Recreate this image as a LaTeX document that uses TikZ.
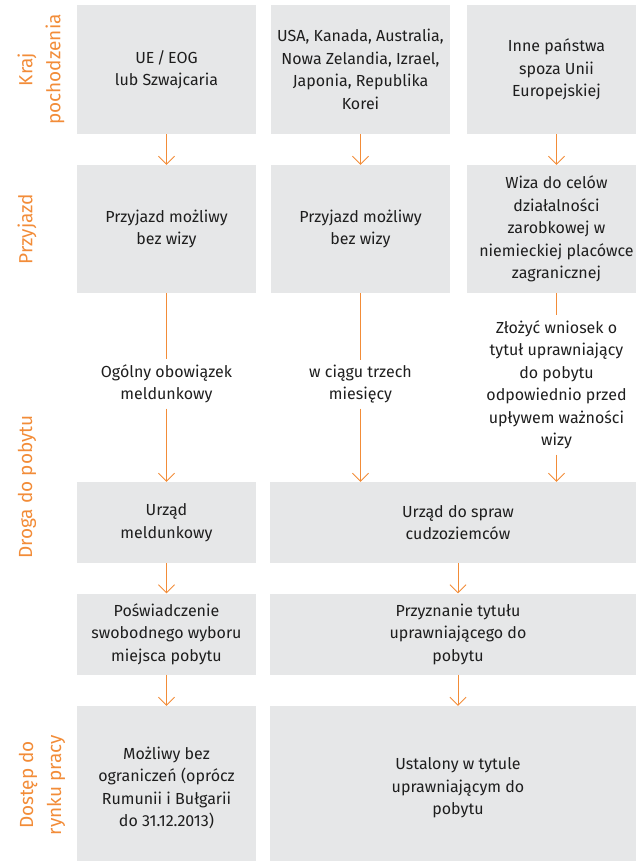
\documentclass[tikz,border=0pt]{standalone}
\usepackage{fontspec}
\setmainfont{Fira Sans}
\usetikzlibrary{arrows.meta}
\definecolor{boxgray}{HTML}{E6E7E8}
\definecolor{txtgray}{HTML}{1E1E1E}
\definecolor{orng}{HTML}{F28C38}
\begin{document}
\begin{tikzpicture}[x=1pt,y=-1pt]
	\tikzstyle{box}=[rectangle,fill=boxgray,text=txtgray,align=center,inner sep=0pt,minimum width=179pt,font=\fontsize{16}{22.5}\selectfont]
	\tikzstyle{note}=[text=txtgray,align=center,inner sep=5pt,font=\fontsize{16}{22.5}\selectfont]
	\tikzstyle{lab}=[text=orng,align=center,rotate=90,font=\fontsize{19}{28}\selectfont]
	\tikzstyle{arr}=[draw=orng,line width=0.9pt,-{Straight Barb[length=8pt,width=16pt,line width=0.9pt]}]
	\tikzstyle{ln}=[draw=orng,line width=0.9pt]

	\clip (0,0) rectangle (636,861);

	% Kraj pochodzenia
	\node [lab] (lk) at (41,69.5) {Kraj\\pochodzenia};
	\node [box,minimum height=129pt] (k1) at (166.5,69.5) {UE\,/\,EOG\\lub Szwajcaria};
	\node [box,minimum height=129pt] (k2) at (360.5,69.5) {USA, Kanada, Australia,\\Nowa Zelandia, Izrael,\\Japonia, Republika\\Korei};
	\node [box,minimum height=129pt] (k3) at (556.5,69.5) {Inne państwa\\spoza Unii\\Europejskiej};

	% Przyjazd
	\node [lab] (lp) at (27,229) {Przyjazd};
	\node [box,minimum height=128pt] (p1) at (166.5,229) {Przyjazd możliwy\\bez wizy};
	\node [box,minimum height=128pt] (p2) at (360.5,229) {Przyjazd możliwy\\bez wizy};
	\node [box,minimum height=128pt] (p3) at (556.5,229) {Wiza do celów\\działalności\\zarobkowej w\\niemieckiej placówce\\zagranicznej};

	% Droga do pobytu
	\node [lab] (ld) at (27,487) {Droga do pobytu};
	\node [note] (n1) at (166.5,384) {Ogólny obowiązek\\meldunkowy};
	\node [note] (n2) at (360.5,384) {w ciągu trzech\\miesięcy};
	\node [note] (n3) at (556.5,385) {Złożyć wniosek o\\tytuł uprawniający\\do pobytu\\odpowiednio przed\\upływem ważności\\wizy};

	\node [box,minimum height=81pt] (u1) at (166.5,522.5) {Urząd\\meldunkowy};
	\node [box,minimum height=81pt,minimum width=376pt] (u2) at (458,522.5) {Urząd do spraw\\cudzoziemców};

	\node [box,minimum height=81pt] (s1) at (166.5,634) {Poświadczenie\\swobodnego wyboru\\miejsca pobytu};
	\node [box,minimum height=81pt,minimum width=376pt] (s2) at (458,634) {Przyznanie tytułu\\uprawniającego do\\pobytu};

	% Dostep do rynku pracy
	\node [lab] (lr) at (42,785) {Dostęp do\\rynku pracy};
	\node [box,minimum height=164pt] (d1) at (166.5,788) {Możliwy bez\\ograniczeń (oprócz\\Rumunii i Bułgarii\\do 31.12.2013)};
	\node [box,minimum height=164pt,minimum width=376pt] (d2) at (458,788) {Ustalony w tytule\\uprawniającym do\\pobytu};

	\path[arr] (k1) -- (p1);
	\path[arr] (k2) -- (p2);
	\path[arr] (k3) -- (p3);
	\path[ln] (p1) -- (n1);
	\path[ln] (p2) -- (n2);
	\path[ln] (p3) -- (n3);
	\path[arr] (n1) -- (u1);
	\path[arr] (n2) -- (n2 |- u2.north);
	\path[arr] (n3) -- (n3 |- u2.north);
	\path[arr] (u1) -- (s1);
	\path[arr] (u2) -- (s2);
	\path[arr] (s1) -- (d1);
	\path[arr] (s2) -- (d2);
\end{tikzpicture}
\end{document}
